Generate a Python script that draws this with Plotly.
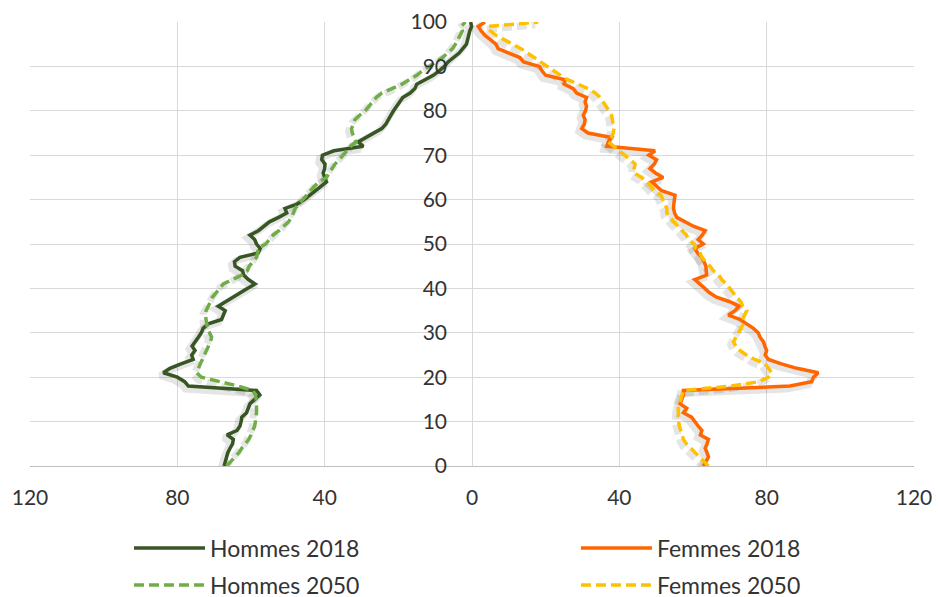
import plotly.graph_objects as go

# age (years) -> population
ages = list(range(0, 101))

hommes_2018 = [
    67.3, 67.0, 66.8, 66.3, 65.7, 65.0, 64.8, 66.5, 63.8, 63.0,
    62.7, 62.5, 61.2, 60.8, 60.3, 59.0, 57.6, 58.5, 77.0, 78.0,
    80.0, 83.8, 82.0, 79.0, 75.7, 76.1, 75.2, 76.0, 75.0, 74.3,
    73.5, 73.0, 71.6, 68.0, 67.5, 67.0, 68.9, 67.0, 65.0, 63.2,
    61.0, 58.9, 60.7, 62.0, 62.3, 64.3, 64.5, 63.0, 58.0, 57.5,
    58.5, 59.0, 60.3, 58.0, 56.5, 55.0, 52.5, 50.3, 50.8, 47.5,
    45.5, 44.0, 42.5, 41.0, 39.5, 40.0, 40.4, 40.0, 39.9, 40.8,
    40.6, 37.5, 29.5, 30.9, 28.6, 26.5, 24.5, 23.4, 22.8, 22.0,
    21.3, 20.5, 19.8, 18.8, 16.8, 15.5, 15.0, 12.5, 10.5, 8.9,
    7.5, 6.5, 5.0, 3.5, 2.5, 1.5, 1.2, 1.0, 0.6, 0.1,
    0.4,
]

hommes_2050 = [
    66.6, 65.5, 64.3, 63.3, 62.5, 61.5, 60.6, 60.0, 59.5, 59.0,
    58.8, 58.6, 58.5, 58.5, 58.5, 58.6, 58.8, 59.5, 63.5, 69.0,
    73.5, 74.7, 74.3, 73.8, 73.2, 72.6, 72.0, 71.4, 71.0, 70.7,
    71.2, 71.8, 72.0, 72.2, 72.4, 72.2, 71.5, 71.0, 70.5, 69.5,
    68.5, 67.5, 65.0, 62.5, 61.0, 60.5, 59.5, 58.5, 58.2, 58.0,
    56.0, 55.0, 54.0, 52.4, 51.0, 49.8, 49.0, 48.5, 48.0, 47.0,
    46.0, 45.0, 44.0, 42.8, 41.5, 39.5, 38.8, 38.0, 37.2, 36.0,
    35.0, 34.0, 33.0, 31.5, 32.0, 32.5, 32.7, 32.3, 31.8, 30.5,
    29.0, 28.0, 27.0, 26.0, 24.5, 21.5, 19.0, 17.0, 15.0, 13.5,
    11.5, 9.8, 8.0, 6.5, 5.3, 4.5, 3.8, 3.2, 2.6, 3.0,
    1.8,
]

femmes_2018 = [
    62.8, 63.5, 64.2, 63.8, 63.3, 63.8, 64.2, 62.0, 62.4, 61.4,
    60.5, 59.6, 57.4, 58.3, 56.5, 57.0, 57.4, 57.4, 86.3, 92.2,
    92.7, 94.0, 88.2, 84.0, 80.5, 79.6, 80.0, 79.5, 79.1, 78.2,
    77.7, 76.4, 74.6, 72.8, 69.6, 71.4, 72.5, 70.0, 66.4, 64.5,
    63.2, 61.8, 60.5, 63.7, 63.5, 63.5, 63.0, 62.4, 61.2, 60.5,
    62.8, 61.4, 62.5, 63.3, 60.1, 57.8, 55.6, 55.0, 54.7, 54.8,
    55.0, 55.1, 51.5, 50.0, 48.8, 51.9, 49.8, 48.3, 49.5, 50.1,
    48.0, 49.7, 36.6, 37.0, 37.9, 31.5, 29.8, 30.5, 30.7, 30.2,
    30.8, 31.1, 30.7, 31.1, 28.4, 27.5, 25.0, 25.3, 20.0, 19.0,
    18.3, 14.0, 13.0, 10.0, 7.1, 6.5, 5.0, 3.5, 2.5, 1.7,
    3.5,
]

femmes_2050 = [
    64.2, 63.0, 61.8, 60.3, 59.2, 58.2, 57.4, 57.0, 56.5, 56.3,
    56.1, 56.0, 56.0, 56.0, 56.3, 56.6, 56.9, 57.4, 70.0, 78.0,
    80.5, 81.4, 80.5, 79.6, 76.8, 74.5, 72.8, 71.6, 71.0, 71.6,
    72.3, 73.0, 73.7, 73.4, 74.0, 74.6, 73.5, 73.0, 71.9, 70.8,
    70.0, 69.0, 67.8, 67.0, 65.5, 64.6, 63.6, 62.4, 61.9, 60.7,
    60.3, 58.8, 58.2, 57.0, 55.8, 54.8, 53.8, 52.9, 52.9, 52.3,
    51.9, 51.3, 49.5, 48.5, 47.5, 46.1, 44.0, 44.0, 44.3, 43.0,
    41.5, 40.0, 38.5, 37.0, 37.8, 38.4, 38.5, 38.3, 38.1, 37.9,
    37.2, 36.4, 35.6, 34.8, 33.5, 31.5, 28.8, 26.0, 24.0, 22.2,
    20.3, 18.5, 16.7, 14.9, 13.3, 11.0, 8.5, 6.5, 5.0, 4.3,
    18.0,
]

x_ticks = [-120, -80, -40, 0, 40, 80, 120]
y_ticks = [0, 10, 20, 30, 40, 50, 60, 70, 80, 90, 100]

FONT = "Lato"
TXT = "#333333"
GRID = "#d9d9d9"
DASH = "10px,5px"

# page body has an 8px margin, so the figure is drawn 8px smaller
W, H = 932, 589
ML, MR, MT, MB = 22, 26, 14, 131
X_RANGE = [-120, 120]
Y_RANGE = [0, 100]
# drop shadow offset (px): left and down
px_x = (W - ML - MR) / (X_RANGE[1] - X_RANGE[0])
px_y = (H - MT - MB) / (Y_RANGE[1] - Y_RANGE[0])
SH_DX, SH_DY = 3, 3

# name, x values (men on the left), colour, dash, legend id, legend x / y (container)
series = [
    ("Hommes 2018", [-v for v in hommes_2018], "#375623", "solid", "legend", 0.1298, 0.0832),
    ("Femmes 2018", femmes_2018, "#ff6600", "solid", "legend2", 0.6094, 0.0832),
    ("Hommes 2050", [-v for v in hommes_2050], "#70ad47", DASH, "legend3", 0.1298, 0.0204),
    ("Femmes 2050", femmes_2050, "#ffc000", DASH, "legend4", 0.6094, 0.0204),
]

fig = go.Figure()

# soft shadows first, on the (hidden, shifted) base axes
for name, xs, color, dash, leg, lx, ly in series:
    fig.add_trace(
        go.Scatter(
            x=xs, y=ages, mode="lines", showlegend=False, hoverinfo="skip",
            line=dict(color="rgba(0,0,0,0.10)", width=7, dash=dash),
        )
    )

legends = {}
for name, xs, color, dash, leg, lx, ly in series:
    fig.add_trace(
        go.Scatter(
            x=xs,
            y=ages,
            name=name,
            mode="lines",
            line=dict(color=color, width=3.5, dash=dash),
            legend=leg,
            xaxis="x2",
            yaxis="y2",
        )
    )
    legends[leg] = dict(
        orientation="h",
        font=dict(family=FONT, size=23, color=TXT),
        itemwidth=71,
        xref="container",
        yref="container",
        xanchor="left",
        yanchor="middle",
        x=lx,
        y=ly,
        bgcolor="rgba(0,0,0,0)",
    )

fig.update_layout(
    width=W,
    height=H,
    margin=dict(l=ML, r=MR, t=MT, b=MB),
    paper_bgcolor="white",
    plot_bgcolor="white",
    font=dict(family=FONT, size=21, color=TXT),
    showlegend=True,
    **legends,
    xaxis=dict(
        visible=False,
        range=[X_RANGE[0] + SH_DX / px_x, X_RANGE[1] + SH_DX / px_x],
    ),
    yaxis=dict(
        visible=False,
        range=[Y_RANGE[0] + SH_DY / px_y, Y_RANGE[1] + SH_DY / px_y],
    ),
    xaxis2=dict(
        overlaying="x",
        anchor="y2",
        range=X_RANGE,
        tickvals=x_ticks,
        ticktext=[str(abs(v)) for v in x_ticks],
        showgrid=True,
        gridcolor=GRID,
        gridwidth=1.3,
        zeroline=False,
        showline=True,
        linecolor="#bfbfbf",
        linewidth=1.3,
        side="bottom",
        ticks="",
        ticklabelstandoff=13,
        automargin=False,
        tickfont=dict(family=FONT, size=21, color=TXT),
    ),
    yaxis2=dict(
        overlaying="y",
        range=Y_RANGE,
        tickvals=y_ticks,
        showgrid=True,
        gridcolor=GRID,
        gridwidth=1.3,
        zeroline=False,
        anchor="free",
        position=0.5,
        side="left",
        ticks="",
        ticklabelstandoff=25,
        automargin=False,
        tickfont=dict(family=FONT, size=21, color=TXT),
    ),
)

fig.write_html("out.html")
